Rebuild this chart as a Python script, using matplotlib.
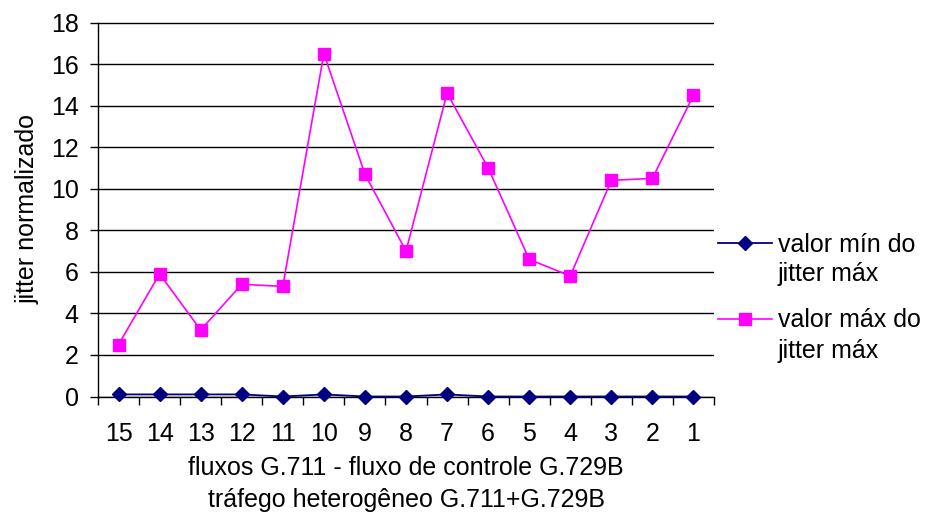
import matplotlib
matplotlib.use("Agg")
import matplotlib.pyplot as plt
import numpy as np

categories = ["15", "14", "13", "12", "11", "10", "9", "8", "7", "6", "5", "4", "3", "2", "1"]
min_values = [0.1, 0.1, 0.1, 0.1, 0.0, 0.1, 0.0, 0.0, 0.1, 0.0, 0.0, 0.0, 0.0, 0.0, 0.0]
max_values = [2.5, 5.9, 3.2, 5.4, 5.3, 16.5, 10.7, 7.0, 14.6, 11.0, 6.6, 5.8, 10.4, 10.5, 14.5]
y_ticks = [0, 2, 4, 6, 8, 10, 12, 14, 16, 18]
label_min = ["valor mín do", "jitter máx"]
label_max = ["valor máx do", "jitter máx"]
xlabel = "fluxos G.711 - fluxo de controle G.729B\ntráfego heterogêneo G.711+G.729B"
ylabel = "jitter normalizado"

plt.rcParams['font.family'] = ['Liberation Sans', 'DejaVu Sans']
FS = 18
W, H = 929, 517
fig = plt.figure(figsize=(W/100, H/100), dpi=100)
ax = fig.add_axes([98/W, 1-396.5/H, (714-98)/W, (396.5-22.5)/H])

x = np.arange(len(categories))
ax.plot(x, min_values, color='#000080', marker='D', markersize=7, linewidth=1.3,
        label=label_min[0], clip_on=False, zorder=4)
ax.plot(x, max_values, color='#FF00FF', marker='s', markersize=8, linewidth=1.2,
        label=label_max[0], clip_on=False, zorder=3)

ax.set_xlim(-0.5, len(categories)-0.5)
ax.set_ylim(0, 18)
ax.set_yticks(y_ticks)
ax.set_yticklabels([str(t) for t in y_ticks], fontsize=FS)
ax.set_xticks(x)
ax.set_xticklabels(categories, fontsize=FS)
ax.set_xticks(np.arange(-0.5, len(categories), 1.0), minor=True)
ax.tick_params(axis='x', which='major', length=0, pad=18.5)
ax.tick_params(axis='x', which='minor', length=6, width=1, color='black')
ax.tick_params(axis='y', which='major', length=6, width=1, pad=8)

ax.grid(axis='y', color='black', linewidth=1)
ax.set_axisbelow(True)
for s in ['top', 'right']:
    ax.spines[s].set_visible(False)
ax.spines['left'].set_linewidth(1)
ax.spines['bottom'].set_linewidth(1)

ax.set_xlabel(xlabel, fontsize=FS, linespacing=1.4, labelpad=7)
ax.set_ylabel(ylabel, fontsize=FS, labelpad=8)

leg = fig.legend(loc='upper left', bbox_to_anchor=(718/W, 1-233/H), frameon=False,
                 fontsize=FS, handlelength=2.15, handletextpad=0.25, labelspacing=2.05,
                 borderpad=0, borderaxespad=0)
fig.text(778/W, 1-274/H, label_min[1], fontsize=FS, va='center', ha='left')
fig.text(778/W, 1-351/H, label_max[1], fontsize=FS, va='center', ha='left')

fig.savefig("out.png", dpi=100)
